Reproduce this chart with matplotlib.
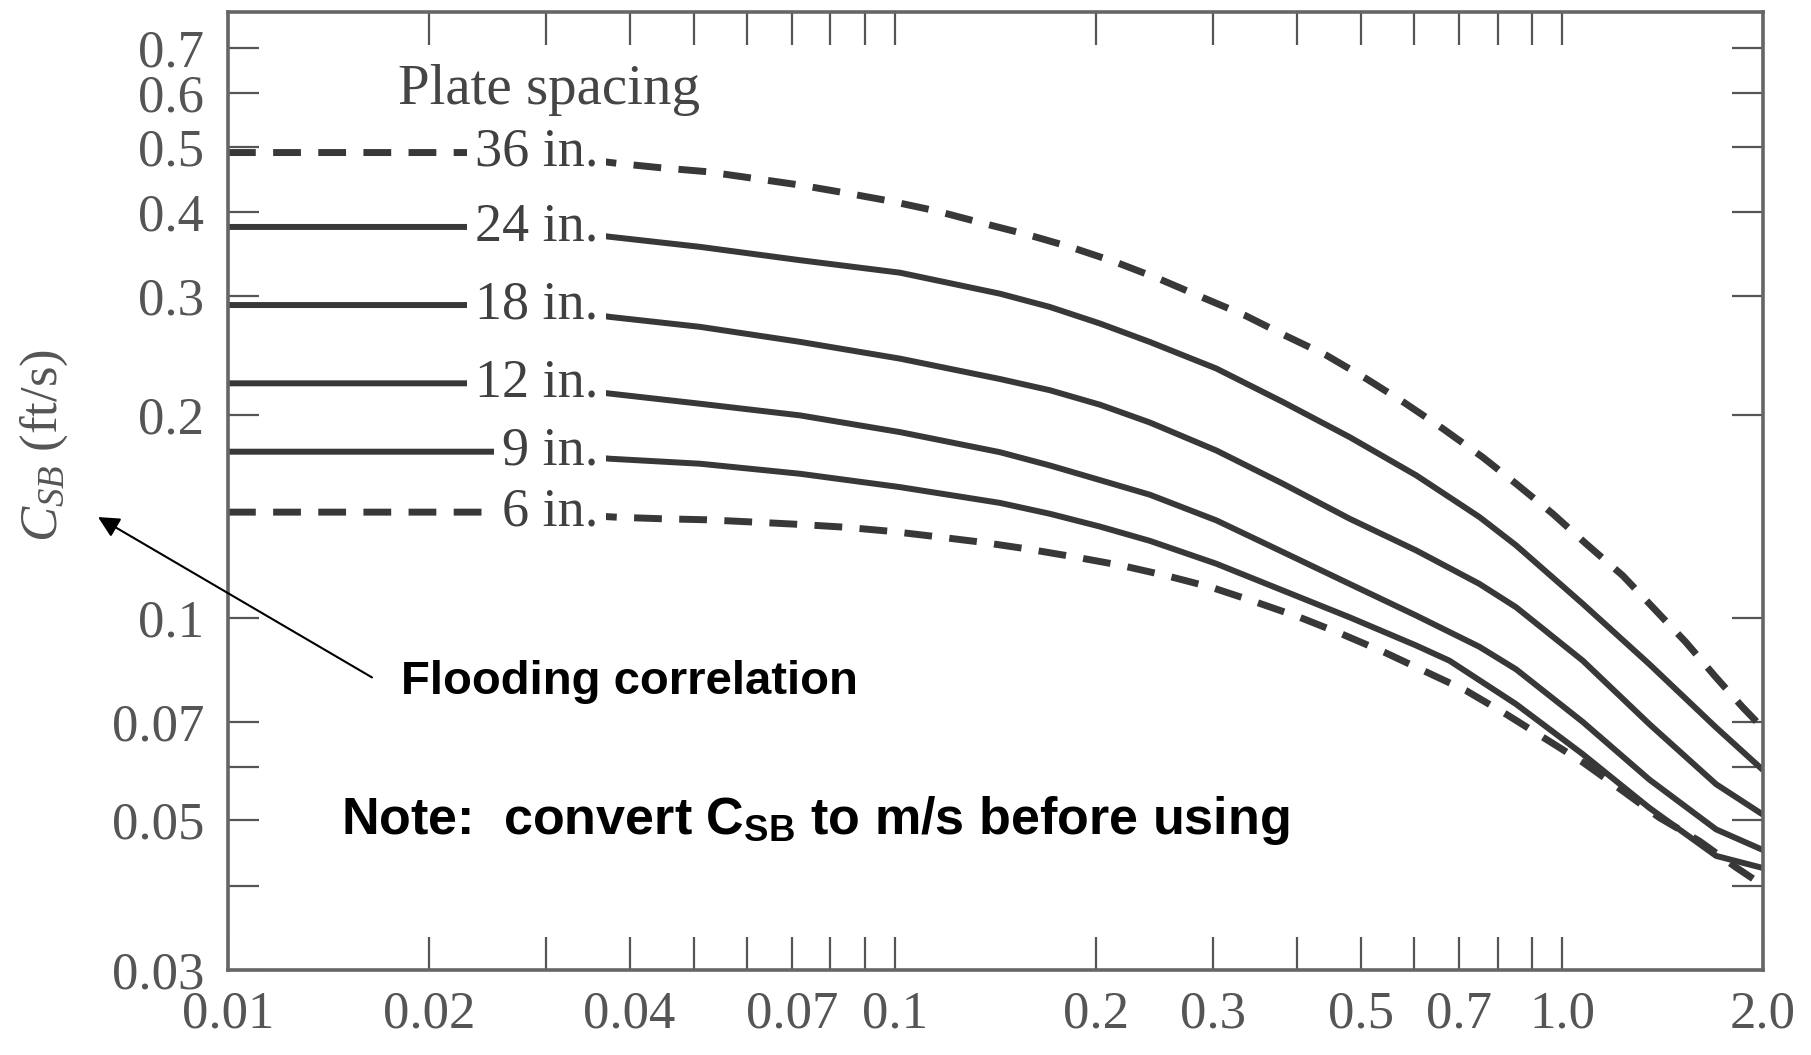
## Souders-Brown flooding chart, C_SB vs flow parameter, plate spacing curves
import matplotlib.pyplot as plt
import numpy as np

plt.rcParams['font.family'] = 'Liberation Serif'
plt.rcParams['mathtext.fontset'] = 'custom'
plt.rcParams['mathtext.rm'] = 'Liberation Serif'
plt.rcParams['mathtext.it'] = 'Liberation Serif:italic'
plt.rcParams['mathtext.bf'] = 'Liberation Sans:bold'

# curves (x = flow parameter, y = C_SB ft/s)
x_36 = [0.01, 0.028, 0.0385, 0.0447, 0.0522, 0.0615, 0.072, 0.0841, 0.0985, 0.1151, 0.1348,
        0.1574, 0.1828, 0.2135, 0.248, 0.2879, 0.3343, 0.3838, 0.4431, 0.5087, 0.5805, 0.6625,
        0.760, 0.853, 0.968, 1.086, 1.233, 1.367, 1.533, 1.701, 1.865, 2.0]
y_36 = [0.49, 0.49, 0.472, 0.465, 0.459, 0.4485, 0.4385, 0.427, 0.415, 0.4015, 0.3853,
        0.3705, 0.355, 0.3373, 0.3186, 0.2991, 0.281, 0.2624, 0.2451, 0.2262, 0.2083, 0.1907,
        0.173, 0.158, 0.1426, 0.1287, 0.1154, 0.1036, 0.0919, 0.0815, 0.0736, 0.0685]

x_mid = [0.01, 0.028, 0.0374, 0.051, 0.072, 0.1017, 0.1436, 0.1706, 0.2028, 0.2409, 0.3032,
         0.3815, 0.4802, 0.6043, 0.7517, 0.853, 1.074, 1.351, 1.701, 2.0]
y_24 = [0.38, 0.38, 0.3674, 0.355, 0.3392, 0.325, 0.3025, 0.2891, 0.2732, 0.2565, 0.2342,
        0.2089, 0.1853, 0.1626, 0.141, 0.128, 0.1048, 0.0853, 0.0687, 0.0594]
y_18 = [0.291, 0.291, 0.2794, 0.2701, 0.2566, 0.2423, 0.226, 0.2175, 0.207, 0.1948, 0.177,
        0.158, 0.1402, 0.1258, 0.1122, 0.1036, 0.0863, 0.0695, 0.0566, 0.051]
y_12 = [0.2227, 0.2227, 0.215, 0.2077, 0.1996, 0.1885, 0.176, 0.1682, 0.160, 0.1522, 0.1394,
        0.1251, 0.1122, 0.1007, 0.0905, 0.0838, 0.07, 0.0575, 0.0485, 0.0452]

x_9 = [0.01, 0.028, 0.0374, 0.051, 0.072, 0.1017, 0.1436, 0.1706, 0.2028, 0.2409, 0.3032,
       0.3815, 0.4802, 0.6043, 0.6779, 0.853, 1.074, 1.351, 1.701, 2.0]
y_9 = [0.1763, 0.1763, 0.1721, 0.1692, 0.1635, 0.1562, 0.148, 0.1426, 0.1365, 0.13, 0.1202,
       0.1097, 0.1001, 0.0909, 0.0863, 0.0744, 0.0627, 0.0522, 0.0443, 0.0425]

x_6 = [0.01, 0.028, 0.0385, 0.0447, 0.0522, 0.0615, 0.072, 0.0841, 0.0985, 0.1151, 0.1348,
       0.1574, 0.1871, 0.2185, 0.2552, 0.298, 0.348, 0.4042, 0.4667, 0.5419, 0.718, 0.824,
       0.946, 1.074, 1.233, 1.398, 1.606, 1.822, 1.952, 2.0]
y_6 = [0.1434, 0.1434, 0.1409, 0.1402, 0.1397, 0.1386, 0.1375, 0.1362, 0.1343, 0.1319, 0.1294,
       0.1265, 0.1229, 0.1195, 0.1154, 0.1109, 0.1054, 0.1001, 0.0946, 0.0888, 0.0779, 0.0719,
       0.066, 0.061, 0.0553, 0.0505, 0.0466, 0.0426, 0.0407, 0.0405]

curves = [
    ('36 in.', x_36, y_36, True),
    ('24 in.', x_mid, y_24, False),
    ('18 in.', x_mid, y_18, False),
    ('12 in.', x_mid, y_12, False),
    ('9 in.', x_9, y_9, False),
    ('6 in.', x_6, y_6, True),
]

xtick_pos = [0.01, 0.02, 0.03, 0.04, 0.05, 0.06, 0.07, 0.08, 0.09, 0.1,
             0.2, 0.3, 0.4, 0.5, 0.6, 0.7, 0.8, 0.9, 1.0, 2.0]
xtick_lab = ['0.01', '0.02', '', '0.04', '', '', '0.07', '', '', '0.1',
             '0.2', '0.3', '', '0.5', '', '0.7', '', '', '1.0', '2.0']
ytick_pos = [0.03, 0.04, 0.05, 0.06, 0.07, 0.1, 0.2, 0.3, 0.4, 0.5, 0.6, 0.7]
ytick_lab = ['0.03', '', '0.05', '', '0.07', '0.1', '0.2', '0.3', '0.4', '0.5', '0.6', '0.7']

line_col = '#383838'
grey = '#555555'

fig = plt.figure(figsize=(18.11, 10.55), dpi=100)
ax = fig.add_axes([0.1259, 0.0806, 0.8476, 0.9080])
ax.set_xscale('log')
ax.set_yscale('log')

for lab, xs, ys, dashed in curves:
    if dashed:
        ax.plot(xs, ys, color=line_col, lw=5.0, ls='--', dashes=(4.0, 2.5), dash_capstyle='butt')
    else:
        ax.plot(xs, ys, color=line_col, lw=4.3, solid_capstyle='butt')
    # label sits in a gap of the line
    ax.text(0.0359, ys[0], lab, ha='right', va='center', fontsize=39, color='#404040',
            bbox=dict(boxstyle='square,pad=0.15', facecolor='white', edgecolor='none'))

ax.text(0.0303, 0.607, 'Plate spacing', ha='center', va='center', fontsize=41, color='#454545')

ax.set_xlim(0.01, 2.0)
ax.set_ylim(0.03, 0.792)
ax.minorticks_off()
ax.set_xticks(xtick_pos, xtick_lab)
ax.set_yticks(ytick_pos, ytick_lab)
ax.tick_params(axis='x', which='both', direction='in', top=True, bottom=True, length=24,
               width=1.6, color='#555555', labelsize=38, labelcolor=grey, pad=15)
ax.tick_params(axis='y', which='both', direction='in', left=True, right=True, length=22,
               width=1.6, color='#555555', labelsize=38, labelcolor=grey, pad=17)
for s in ax.spines.values():
    s.set_color('#666666')
    s.set_linewidth(2.6)

ax.text(-0.12, 0.547, r'$C_{SB}$ (ft/s)', transform=ax.transAxes, rotation=90,
        ha='center', va='center', fontsize=38, color=grey)

ax.annotate('', xy=(-0.0847, 0.4728), xycoords='axes fraction', xytext=(0.0938, 0.3054),
            textcoords='axes fraction', annotation_clip=False,
            arrowprops=dict(arrowstyle='-|>', color='black', lw=1.5, mutation_scale=32,
                            shrinkA=0, shrinkB=0))
ax.text(0.1127, 0.2877, 'Flooding correlation', transform=ax.transAxes, fontsize=34,
        fontweight='bold', family='Liberation Sans', ha='left', va='baseline')
ax.text(0.0736, 0.142, r'Note:  convert C$_\mathbf{SB}$ to m/s before using',
        transform=ax.transAxes, fontsize=37.5, fontweight='bold', family='Liberation Sans',
        ha='left', va='baseline')

plt.savefig('out.png', dpi=100)
